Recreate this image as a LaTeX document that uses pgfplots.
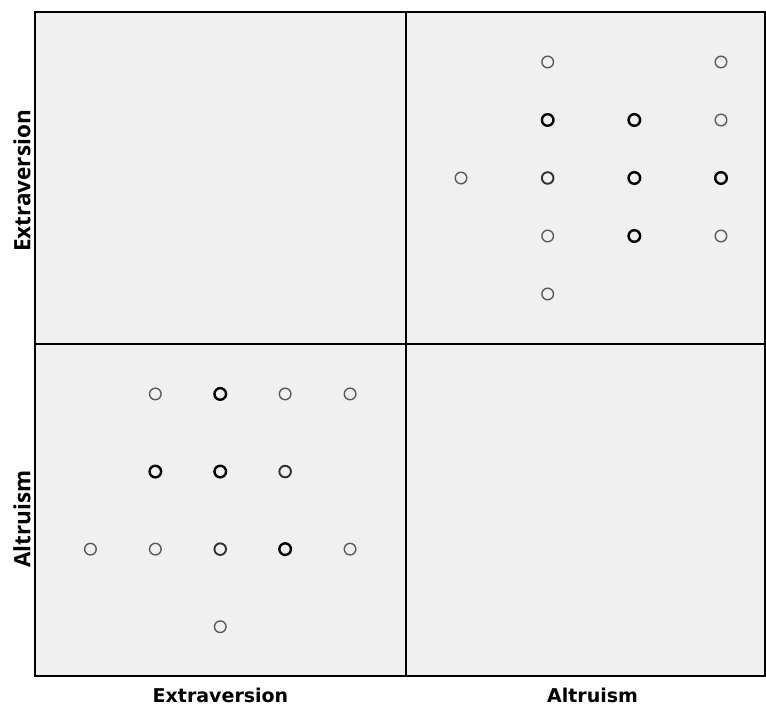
\documentclass[border=0pt]{standalone}
\usepackage{pgfplots}
\pgfplotsset{compat=1.18}
\usepackage{fontspec}
\setmainfont{DejaVu Sans}
\newfontfamily\vfont{Open Sans}
\definecolor{bgc}{HTML}{F0F0F0}
\definecolor{lightc}{HTML}{5A5A5A}
\definecolor{midc}{HTML}{303030}
\begin{document}
\begin{tikzpicture}[x=1pt,y=1pt]
\path (-35,-31) rectangle (731,676);
\pgfplotsset{
  panel/.style={scale only axis, anchor=south west,
    axis background/.style={fill=bgc},
    xtick=\empty, ytick=\empty,
    axis line style={line width=1.5pt, black}},
  lightm/.style={only marks, mark=o, mark size=5.8pt, mark options={draw=lightc, line width=1.4pt}},
  midm/.style={only marks, mark=o, mark size=5.8pt, mark options={draw=midc, line width=1.9pt}},
  boldm/.style={only marks, mark=o, mark size=5.8pt, mark options={draw=black, line width=2.4pt}},
}
% top-left (empty)
\begin{axis}[panel, at={(0pt,332pt)}, width=371pt, height=332pt, xmin=0, xmax=1, ymin=0, ymax=1]
\end{axis}
% top-right: x = Altruism, y = Extraversion
\begin{axis}[panel, at={(371pt,332pt)}, width=359pt, height=332pt,
  xmin=0.365, xmax=4.508, ymin=0.138, ymax=5.862]
\addplot[lightm] coordinates {(1,3) (2,5) (2,2) (2,1) (4,5) (4,4) (4,2)};
\addplot[midm] coordinates {(2,3)};
\addplot[boldm] coordinates {(2,4) (3,4) (3,3) (3,2) (4,3)};
\end{axis}
% bottom-left: x = Extraversion, y = Altruism
\begin{axis}[panel, at={(0pt,0pt)}, width=371pt, height=332pt,
  xmin=0.146, xmax=5.862, ymin=0.365, ymax=4.644]
\addplot[lightm] coordinates {(2,4) (4,4) (5,4) (1,2) (2,2) (5,2) (3,1)};
\addplot[midm] coordinates {(3,2) (4,3)};
\addplot[boldm] coordinates {(3,4) (2,3) (3,3) (4,2)};
\end{axis}
% bottom-right (empty)
\begin{axis}[panel, at={(371pt,0pt)}, width=359pt, height=332pt, xmin=0, xmax=1, ymin=0, ymax=1]
\end{axis}
% labels
\begin{scope}[font=\vfont\bfseries\fontsize{22.5}{26}\selectfont]
\node[rotate=90] at (-13,495) {Extraversion};
\node[rotate=90] at (-13,157) {Altruism};
\end{scope}
\begin{scope}[font=\bfseries\fontsize{19}{22}\selectfont]
\node at (185.5,-19.5) {Extraversion};
\node at (557.5,-19.5) {Altruism};
\end{scope}
\end{tikzpicture}
\end{document}
